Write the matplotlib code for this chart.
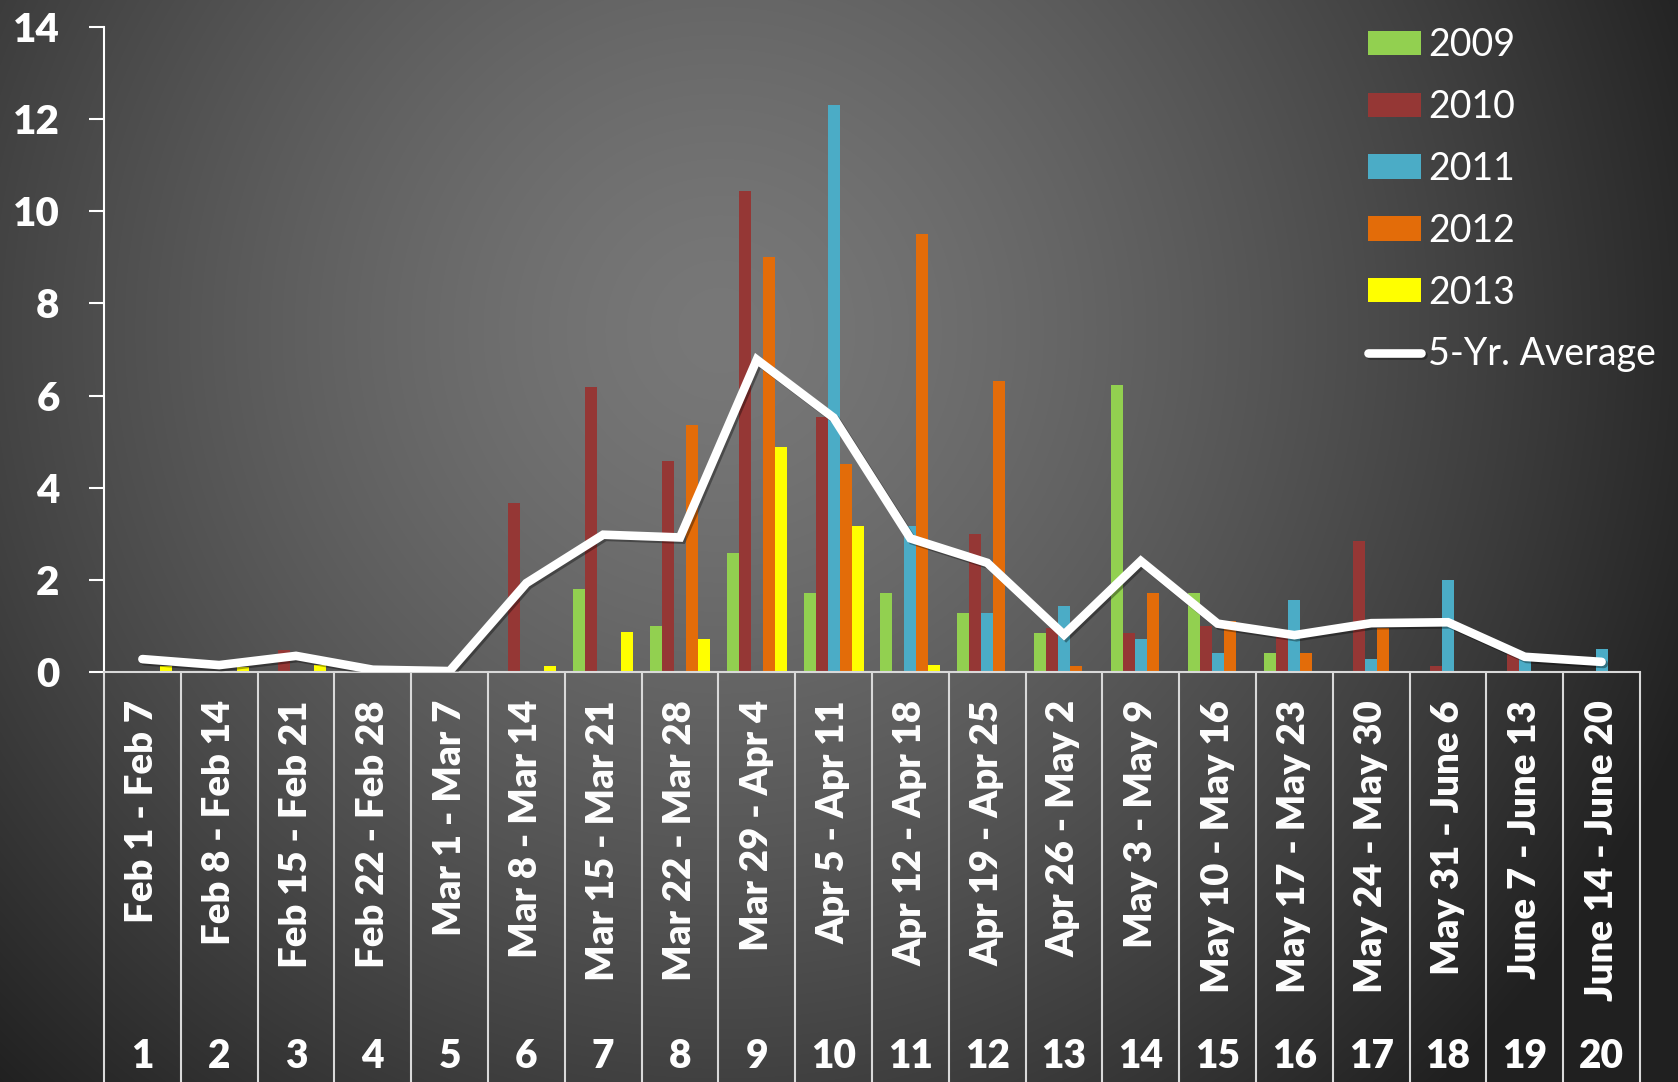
import numpy as np
import matplotlib
matplotlib.use("Agg")
import matplotlib.pyplot as plt
import matplotlib.patheffects as pe

plt.rcParams["font.family"] = ["Lato", "DejaVu Sans"]

# --- data ---
weeks = [
    "Feb 1 - Feb 7", "Feb 8 - Feb 14", "Feb 15 - Feb 21", "Feb 22 - Feb 28",
    "Mar 1 - Mar 7", "Mar 8 - Mar 14", "Mar 15 - Mar 21", "Mar 22 - Mar 28",
    "Mar 29 - Apr 4", "Apr 5 - Apr 11", "Apr 12 - Apr 18", "Apr 19 - Apr 25",
    "Apr 26 - May 2", "May 3 - May 9", "May 10 - May 16", "May 17 - May 23",
    "May 24 - May 30", "May 31 - June 6", "June 7 - June 13", "June 14 - June 20",
]
week_numbers = [str(i) for i in range(1, 21)]

years = ["2009", "2010", "2011", "2012", "2013"]
y2009 = [0, 0, 0, 0, 0, 0, 1.80, 1.00, 2.59, 1.71, 1.71, 1.28, 0.85, 6.22, 1.71, 0.42, 0, 0, 0, 0]
y2010 = [0, 0, 0.48, 0, 0, 3.67, 6.18, 4.59, 10.45, 5.54, 0, 3.00, 0.95, 0.85, 1.00, 0.86, 2.85, 0.13, 0.40, 0]
y2011 = [0, 0, 0, 0, 0, 0, 0, 0, 0, 12.30, 3.16, 1.28, 1.43, 0.71, 0.42, 1.56, 0.28, 2.00, 0.28, 0.49]
y2012 = [0, 0, 0, 0, 0, 0, 0, 5.36, 9.00, 4.52, 9.51, 6.31, 0.13, 1.71, 1.10, 0.42, 0.95, 0, 0, 0]
y2013 = [0.12, 0.10, 0.15, 0, 0, 0.13, 0.86, 0.71, 4.88, 3.16, 0.15, 0, 0, 0, 0, 0, 0, 0, 0, 0]
avg5 = [0.28, 0.15, 0.35, 0.05, 0.02, 1.93, 2.98, 2.92, 6.78, 5.52, 2.90, 2.37, 0.81, 2.41, 1.05, 0.80, 1.06, 1.08, 0.33, 0.22]

series = [y2009, y2010, y2011, y2012, y2013]
colors = ["#92D050", "#953735", "#4BACC6", "#E36C09", "#FFFF00"]

W, H = 1678, 1082
fig = plt.figure(figsize=(W / 100, H / 100), dpi=100)

# radial grey background
bg = fig.add_axes([0, 0, 1, 1], zorder=-10)
yy, xx = np.mgrid[0:H, 0:W]
d = np.hypot(xx - 720, yy - 330)
lev = 0x78 - 78 * (d / 960) ** 1.4
lev = np.clip(lev, 0x20, 0x78) / 255.0
bg.imshow(np.dstack([lev, lev, lev]), aspect="auto", extent=[0, 1, 0, 1])
bg.axis("off")

# plot area
x0, x1, ytop, y0 = 104, 1640, 27, 672
ax = fig.add_axes([x0 / W, 1 - y0 / H, (x1 - x0) / W, (y0 - ytop) / H])
ax.set_facecolor("none")

x = np.arange(len(weeks))
bw = 0.156
handles = []
for i, (vals, c, lab) in enumerate(zip(series, colors, years)):
    b = ax.bar(x + (i - 2) * bw, vals, width=bw, color=c, label=lab, zorder=2)
    handles.append(b)

line, = ax.plot(x, avg5, color="white", lw=6.2, solid_capstyle="round",
                solid_joinstyle="miter", label="5-Yr. Average", zorder=3,
                path_effects=[pe.SimpleLineShadow(offset=(1.5, -1.5), alpha=0.35),
                              pe.Normal()])
handles.append(line)

ax.set_xlim(-0.5, len(weeks) - 0.5)
ax.set_ylim(0, 14)
ax.set_yticks(range(0, 15, 2))
ax.tick_params(axis="y", colors="white", length=11, width=1.5, pad=21,
               labelsize=29)
for t in ax.get_yticklabels():
    t.set_fontweight("heavy")
ax.set_xticks([])

for s in ["top", "right"]:
    ax.spines[s].set_visible(False)
ax.spines["left"].set_color("white")
ax.spines["left"].set_linewidth(1.5)
ax.spines["bottom"].set_color("#d9d9d9")
ax.spines["bottom"].set_linewidth(1.5)

# multi-level category axis
trans = ax.get_xaxis_transform()
bottom_frac = (y0 - H) / (y0 - ytop)
ax.vlines(np.arange(len(weeks) + 1) - 0.5, bottom_frac, 0, transform=trans,
          colors="#d9d9d9", lw=1.5, clip_on=False)
for xi, lab, num in zip(x, weeks, week_numbers):
    ax.text(xi, (y0 - 700) / (y0 - ytop), lab, transform=trans, rotation=90,
            ha="center", va="top", color="white", fontsize=27.5,
            fontweight="heavy")
    ax.text(xi, (y0 - 1057) / (y0 - ytop), num, transform=trans,
            ha="center", va="center", color="white", fontsize=28,
            fontweight="heavy")

leg = ax.legend(handles=handles, loc="upper left",
                bbox_to_anchor=(1368 / W, 1 - 27 / H),
                bbox_transform=fig.transFigure, frameon=False, fontsize=27,
                labelcolor="white", handlelength=1.4, handleheight=0.62,
                handletextpad=0.2, labelspacing=0.69, borderpad=0,
                borderaxespad=0)

fig.savefig("out.png", dpi=100)
